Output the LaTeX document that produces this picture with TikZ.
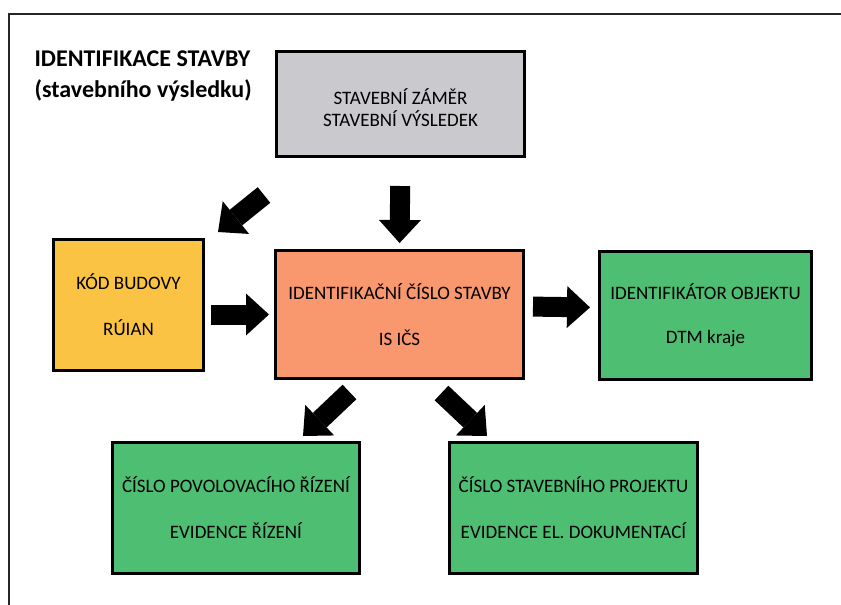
\documentclass[tikz,border=0pt]{standalone}
\usepackage{fontspec}
\setmainfont{Carlito}
\usetikzlibrary{arrows.meta,calc}

\definecolor{zamer}{RGB}{201,201,206}
\definecolor{budova}{RGB}{250,195,67}
\definecolor{stavba}{RGB}{249,151,111}
\definecolor{zelena}{RGB}{78,190,115}

\begin{document}
\begin{tikzpicture}[x=1pt, y=-1pt, font=\fontsize{19}{22}\selectfont,
    box/.style={draw=black, line width=3pt, align=center, inner sep=0pt},
    fat/.style={line width=20pt, -{Triangle[width=42pt, length=23pt, line width=0pt]}}]
    \useasboundingbox (0,0) rectangle (841,605);
    % frame of the page
    \draw[line width=1.8pt, black!85] (9,605) -- (9,14) -- (841,14);
    % title
    \node[anchor=north west, align=left, font=\fontsize{24}{31}\selectfont\bfseries] (title) at (31,47)
      {IDENTIFIKACE STAVBY\\(stavebního výsledku)};
    % boxes
    \node[box, fill=zamer, minimum width=248, minimum height=105] (zamer) at (400.5,104)
      {\mbox{}\\[2pt]STAVEBNÍ ZÁMĚR\\STAVEBNÍ VÝSLEDEK};
    \node[box, fill=budova, minimum width=150, minimum height=131] (kod) at (128.5,305)
      {KÓD BUDOVY\\[24pt]RÚIAN};
    \node[box, fill=stavba, minimum width=248, minimum height=128] (ics) at (399.5,314.5)
      {IDENTIFIKAČNÍ ČÍSLO STAVBY\\[24pt]IS IČS};
    \node[box, fill=zelena, minimum width=212, minimum height=128] (dtm) at (705.5,315.5)
      {IDENTIFIKÁTOR OBJEKTU\\[22pt]DTM kraje};
    \node[box, fill=zelena, minimum width=247, minimum height=131] (rizeni) at (236,508)
      {ČÍSLO POVOLOVACÍHO ŘÍZENÍ\\[24pt]EVIDENCE ŘÍZENÍ};
    \node[box, fill=zelena, minimum width=248, minimum height=131] (projekt) at (573.5,508)
      {ČÍSLO STAVEBNÍHO PROJEKTU\\[24pt]EVIDENCE EL. DOKUMENTACÍ};
    % block arrows
    \draw[fat, shorten <=28pt, shorten >=6pt] (zamer.south) -- (ics.north);
    \draw[fat] ([shift={(-11,37)}]zamer.south west) -- ([shift={(13,-6)}]kod.north east);
    \draw[fat, shorten <=6pt, shorten >=5pt] (kod.east |- ics.west) -- (ics.west);
    \draw[fat, shorten <=8pt, shorten >=8pt] ([yshift=8pt]ics.east) -- ([yshift=8pt]dtm.west);
    \draw[fat] ([shift={(-50,12)}]ics.south) -- ([shift={(-58,-5)}]rizeni.north east);
    \draw[fat] ([shift={(42,13)}]ics.south) -- ([shift={(39,-5)}]projekt.north west);
\end{tikzpicture}
\end{document}
